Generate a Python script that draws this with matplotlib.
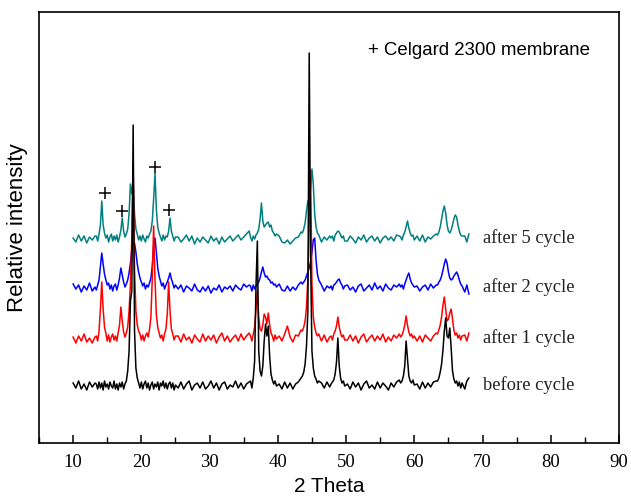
import numpy as np
import matplotlib
matplotlib.use("Agg")
import matplotlib.pyplot as plt
from matplotlib.ticker import MultipleLocator

# ---------------- data ----------------
# 2-theta sampling grid (non-uniform: denser around the reflections)
grid_segments = [
    (10.0, 13.2, 0.4), (13.4, 25.0, 0.2), (25.4, 35.8, 0.4), (36.0, 39.8, 0.2),
    (40.2, 43.4, 0.4), (43.6, 46.0, 0.2), (46.4, 47.6, 0.4), (47.8, 49.8, 0.2),
    (50.2, 57.8, 0.4), (58.0, 60.0, 0.2), (60.4, 63.2, 0.4), (63.4, 67.0, 0.2),
    (67.4, 68.0, 0.3),
]

# intensities above each pattern's own baseline (arbitrary units)
before_cycle = [
    3, -2, 5, -3, 2, -4, 4, -1, 3,
    2, -3, 4, -2, 3, -4, 5, -1, 2, -3, 4, 0, -2, 5, -3, 2, -4, 3, -1, 4, -3, 2, 5,
    15, 35, 85, 95, 261, 55, 18, 8, 3, -2, 4, -3, 2, 5, -2, 3, -4, 1, 4, -3, 2, -1,
    4, -4, 3, 0, 5, -2, 3, -3, 2, 4, -2, 3, -4, 1,
    -2, 4, -3, 2, 5, -4, 1, 3, -2, 4, -3, 0, 5, -2, 3, -4, 2, 4, -3, 1, -1, 5, -2, 3, -3, 2, 4,
    5, -2, 8, 25, 100, 145, 35, 15, 10, 20, 45, 62, 50, 60, 30, 12, 6, 2, 5, 0,
    2, -3, 4, -2, 3, -3, 2, 4, 8,
    10, 14, 22, 40, 75, 333, 130, 35, 18, 10, 7, 3, 5,
    3, -2, 4, -1,
    2, 4, 6, 12, 24, 48, 20, 8, 3, 5, 0,
    2, -3, 4, -1, 3, -4, 2, 5, -2, 1, -3, 4, -2, 3, 0, -4, 3, -1, 4, 6,
    3, 5, 10, 20, 45, 28, 10, 5, 3, 6, 1,
    2, -3, 4, -2, 3, -1, 4, 5,
    5, 8, 14, 22, 36, 55, 68, 50, 48, 58, 38, 15, 7, 3, 5, 0, 4, -2, 3,
    -3, 5, 8,
]
after_1_cycle = [
    2, -4, 3, -2, 5, -3, 1, -4, 2,
    3, -2, 8, 30, 57, 30, 12, 6, -2, 4, -3, 2, 5, -1, 3, -2, 6, 14, 32, 18, 7, 2, 6,
    12, 28, 55, 100, 172, 70, 28, 14, 8, 5, -1, 4, -2, 3, 6, 2, 10, 22, 60, 113, 60,
    24, 12, 6, 1, 4, -2, 5, 10, 25, 57, 28, 10, 5, -1, 3,
    3, -3, 5, -1, 2, -4, 4, 0, -3, 5, -2, 3, -1, 4, -4, 2, 6, -2, 3, -3, 1, 4, -2, 5, -1, 3, 6,
    3, -2, 5, 12, 30, 48, 22, 10, 8, 14, 25, 22, 15, 26, 14, 6, 3, -2, 4, 0,
    3, -2, 5, 13, 2, -3, 4, 3, 9,
    8, 12, 18, 32, 60, 120, 168, 55, 22, 12, 6, 3, 5,
    -2, 4, -3, 2,
    3, -1, 5, 8, 13, 22, 12, 6, 2, 4, -1,
    -1, 4, -2, 3, -4, 2, 5, -3, 1, 4, -2, 3, -1, 5, -3, 2, -2, 4, 1, 5,
    2, 4, 8, 14, 23, 14, 7, 3, 5, 1, 3,
    -2, 3, -3, 4, 1, -2, 3, 6,
    5, 9, 14, 22, 34, 42, 30, 18, 20, 26, 30, 20, 9, 4, 6, 1, 4, -1, 3,
    4, -2, 6,
]
after_2_cycle = [
    4, -1, 3, -4, 2, -2, 5, -3, 1,
    -2, 3, 8, 22, 35, 24, 14, 8, 3, 5, -1, 3, -3, 2, 4, -2, 3, 10, 20, 13, 6, 1, 4,
    8, 15, 25, 38, 44, 45, 36, 24, 16, 10, 6, 2, 5, -1, 3, 1, 5, 10, 22, 42, 50,
    36, 20, 12, 7, 2, 5, -1, 3, 6, 10, 15, 9, 5, 0, 3,
    -1, 3, -4, 2, 0, -3, 4, -2, -4, 1, -3, 2, -5, 0, -2, 3, -4, 1, -1, 2, -3, 3, 0, -2, 4, 1, 3,
    2, -3, 3, -1, 2, 4, 6, 10, 16, 21, 15, 11, 12, 9, 8, 5, 6, 3, 4, 1,
    4, -2, -3, 2, -3, 1, -2, 3, 6,
    4, 6, 8, 12, 16, 20, 26, 36, 48, 50, 28, 14, 8,
    3, -3, 2, 0,
    2, -2, 3, 4, 6, 8, 9, 5, 3, -1, 2,
    3, -2, 1, -4, 2, 4, -3, 0, 3, -2, 5, -1, 2, -3, 4, 0, -2, 3, 1, 4,
    1, 3, -1, 4, 8, 12, 15, 9, 5, 3, 1,
    2, -3, 1, 3, -2, 4, 0, 3,
    3, 6, 8, 12, 18, 24, 29, 25, 16, 10, 8, 9, 12, 14, 16, 13, 8, 4, 2,
    -4, 3, -6,
]
after_5_cycle = [
    1, -3, 4, -2, 3, -4, 2, -1, 3,
    3, -2, 5, 14, 38, 14, 6, 1, 4, -3, 2, 5, -2, 3, -1, 4, -3, 2, 9, 21, 8, 2, 5,
    10, 25, 55, 45, 58, 25, 10, 5, -1, 3, -2, 4, 0, -3, 3, 1, 5, 8, 18, 40, 66,
    30, 12, 6, 2, -2, 4, -1, 3, 2, 8, 21, 8, 3, -2, 2,
    2, -3, 0, 4, -2, 3, -5, 1, -3, 2, -1, -4, 3, -2, 1, -5, 2, -3, 0, 3, -2, 1, 4, -1, 2, 5, 8,
    2, -2, 3, 0, 4, 6, 10, 20, 36, 18, 12, 14, 16, 17, 12, 14, 8, 6, 3, 5,
    3, -3, -4, -1, -5, -2, 1, 2, 7,
    6, 10, 16, 28, 38, 35, 50, 70, 55, 25, 12, 6, 4,
    -3, 2, -1, 3,
    1, 3, -2, 4, 6, 8, 7, 4, 1, 3, -2,
    -2, 3, 0, -4, 2, -1, 4, -3, 1, 3, -2, 2, -4, 1, 3, -1, 2, -2, 4, 3,
    2, -1, 4, 7, 12, 18, 11, 6, 3, 4, -1,
    3, -2, 4, -3, 2, 0, 3, 5,
    4, 7, 12, 20, 28, 33, 26, 14, 8, 6, 9, 14, 20, 24, 22, 14, 8, 4, 3,
    3, -3, 5,
]

series_names = ["before cycle", "after 1 cycle", "after 2 cycle", "after 5 cycle"]
series_colors = ["#000000", "#ff0000", "#0000ff", "#008080"]
series_offsets = [57, 104, 155, 204]

# Celgard 2300 membrane reflections marked with "+"
plus_x = [14.6, 17.2, 22.0, 24.1]
plus_y = [250, 232, 276, 233]

x_ticks = [10, 20, 30, 40, 50, 60, 70, 80, 90]

# ---------------- plot ----------------
two_theta = np.concatenate(
    [np.round(np.arange(a, b + s / 2, s), 2) for a, b, s in grid_segments])

fig = plt.figure(figsize=(6.31, 4.98), dpi=100)
ax = fig.add_axes([0.0618, 0.1104, 0.9192, 0.8655])

all_series = [before_cycle, after_1_cycle, after_2_cycle, after_5_cycle]
zorders = [5, 4, 3, 2]
for ys, name, col, off, zo in zip(all_series, series_names, series_colors,
                                  series_offsets, zorders):
    ys = np.asarray(ys, dtype=float)
    n = min(len(ys), len(two_theta))
    ax.plot(two_theta[:n], ys[:n] + off, color=col, lw=1.1, zorder=zo)
    ax.text(70.0, off + 1, name, fontsize=13.3, family="Liberation Serif",
            va="center", ha="left", color="#222222")

ax.plot(plus_x, plus_y, linestyle="none", marker="+", color="black",
        ms=8, mew=1.1, zorder=6)
ax.text(53.2, 393, "+ Celgard 2300 membrane", fontsize=13.4,
        family="Liberation Sans", va="center", ha="left")

ax.set_xlim(5, 90)
ax.set_ylim(0, 431)
ax.set_xticks(x_ticks)
ax.xaxis.set_minor_locator(MultipleLocator(5))
ax.set_yticks([])
ax.tick_params(axis="x", which="major", direction="in", length=6, width=1.1,
               labelsize=13.5, pad=8, top=False)
ax.tick_params(axis="x", which="minor", direction="in", length=4, width=1.0,
               top=False)
for lab in ax.get_xticklabels():
    lab.set_family("Liberation Serif")
for sp in ax.spines.values():
    sp.set_linewidth(1.2)

ax.set_xlabel("2 Theta", fontsize=15, family="Liberation Sans", labelpad=4)
ax.set_ylabel("Relative intensity", fontsize=16, family="Liberation Sans",
              labelpad=8)

fig.savefig("out.png", dpi=100)
